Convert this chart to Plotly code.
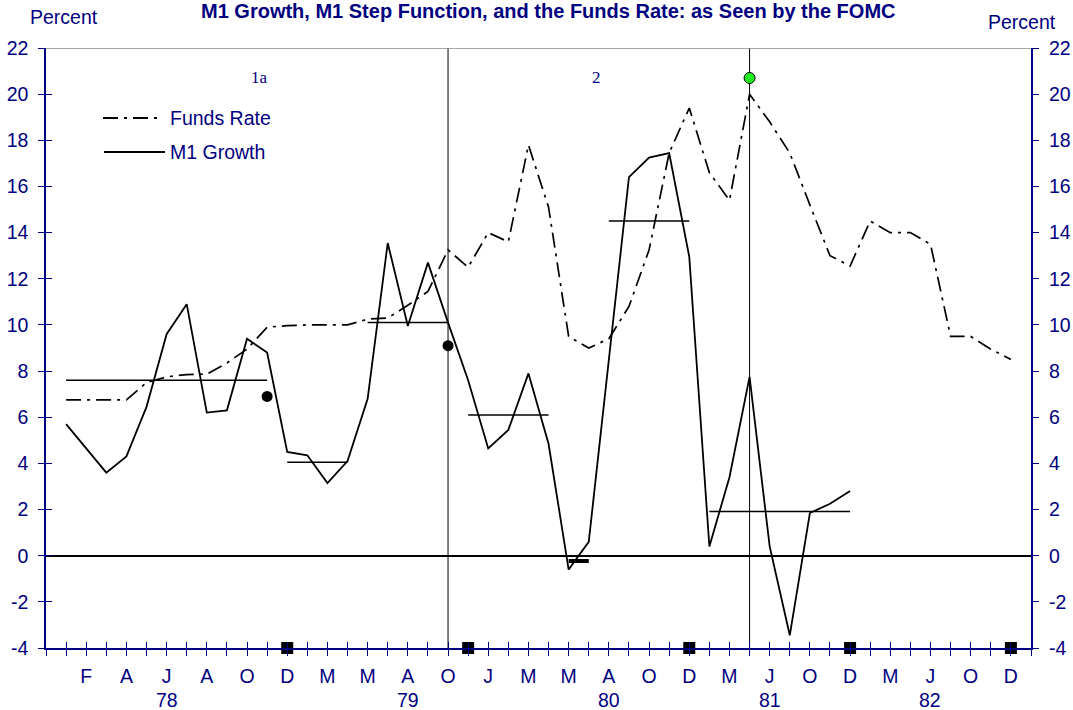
import plotly.graph_objects as go

# ---------------- data ----------------
# x positions are FOMC meeting indices (0 = left edge of axis, 49 = right edge)
funds_idx = list(range(1, 49))
funds_rate = [6.75, 6.75, 6.75, 6.75, 7.5, 7.75, 7.85, 7.87, 8.35, 8.95,
              9.9, 9.97, 10.0, 10.0, 10.0, 10.25, 10.3, 10.85, 11.45, 13.25,
              12.5, 14.0, 13.6, 17.8, 15.1, 9.5, 9.0, 9.4, 10.8, 13.25,
              17.45, 19.4, 16.6, 15.4, 20.0, 18.8, 17.45, 15.2, 13.0, 12.55,
              14.5, 14.0, 14.0, 13.5, 9.5, 9.5, 8.95, 8.5]

m1_idx = list(range(1, 41))
m1_growth = [5.7, 4.65, 3.6, 4.3, 6.45, 9.6, 10.9, 6.2, 6.3, 9.4,
             8.8, 4.5, 4.35, 3.15, 4.1, 6.8, 13.55, 9.95, 12.7, 10.1,
             7.6, 4.65, 5.45, 7.9, 4.85, -0.6, 0.6, 8.5, 16.4, 17.25,
             17.45, 12.95, 0.4, 3.4, 7.75, 0.4, -3.45, 1.85, 2.25, 2.8]

step_starts = [1, 12, 16, 21, 28, 33]
step_ends = [11, 15, 20, 25, 32, 40]
step_values = [7.6, 4.05, 10.1, 6.1, 14.5, 1.92]
thick_step_start = [26]
thick_step_end = [27]
thick_step_value = [-0.23]

black_dot_idx = [11, 20]
black_dot_val = [6.9, 9.1]
green_dot_idx = [35]
green_dot_val = [20.7]

square_idx = [12, 21, 32, 40, 48]
square_val = [-4, -4, -4, -4, -4]

regime_break_idx = [20, 35]

month_labels = ["F", "A", "J", "A", "O", "D", "M", "M", "A", "O", "J", "M",
                "M", "A", "O", "D", "M", "J", "O", "D", "M", "J", "O", "D"]
month_label_idx = list(range(2, 49, 2))
year_labels = ["78", "79", "80", "81", "82"]
year_label_idx = [6, 18, 28, 36, 44]

period_labels = ["1a", "2"]
period_label_idx = [10.6, 27.4]
period_label_val = [20.72, 20.72]

y_ticks = list(range(-4, 23, 2))
y_tick_text = [str(v) for v in y_ticks]  # plain hyphen minus like the original

# ---------------- styling ----------------
NAVY = "#000080"
FONT = "Liberation Sans, Arial, sans-serif"
FS = 19.5
X_RANGE = [0, 49]
Y_RANGE = [-4, 22]
FUNDS_DASH = "15px,6px,3px,6px"

all_ticks = list(range(0, 50))
tick_text = [""] * len(all_ticks)
for i, lab in zip(month_label_idx, month_labels):
    tick_text[i] = lab

fig = go.Figure()

# regime break vertical lines
vx, vy = [], []
for b in regime_break_idx:
    vx += [b, b, None]
    vy += [Y_RANGE[0], Y_RANGE[1], None]
fig.add_trace(go.Scatter(x=vx, y=vy, mode="lines",
                         line=dict(color="black", width=1), hoverinfo="skip",
                         showlegend=False, cliponaxis=False))

# step function
sx, sy = [], []
for a, b, v in zip(step_starts, step_ends, step_values):
    sx += [a, b, None]
    sy += [v, v, None]
fig.add_trace(go.Scatter(x=sx, y=sy, mode="lines",
                         line=dict(color="black", width=1.5),
                         name="M1 Step", showlegend=False))
tx, ty = [], []
for a, b, v in zip(thick_step_start, thick_step_end, thick_step_value):
    tx += [a, b, None]
    ty += [v, v, None]
fig.add_trace(go.Scatter(x=tx, y=ty, mode="lines",
                         line=dict(color="black", width=4),
                         showlegend=False))

# funds rate
fig.add_trace(go.Scatter(x=funds_idx, y=funds_rate, mode="lines",
                         line=dict(color="black", width=1.7, dash=FUNDS_DASH),
                         name="Funds Rate", showlegend=False))
# M1 growth
fig.add_trace(go.Scatter(x=m1_idx, y=m1_growth, mode="lines",
                         line=dict(color="black", width=1.8),
                         name="M1 Growth", showlegend=False))

# black dots (on yaxis3 = left inside ticks)
fig.add_trace(go.Scatter(x=black_dot_idx, y=black_dot_val, mode="markers",
                         marker=dict(color="black", size=11),
                         xaxis="x", yaxis="y3", showlegend=False))
# green dot (on right axis)
fig.add_trace(go.Scatter(x=green_dot_idx, y=green_dot_val, mode="markers",
                         marker=dict(color="#22ee22", size=11,
                                     line=dict(color="black", width=1)),
                         xaxis="x", yaxis="y2", showlegend=False,
                         cliponaxis=False))
# squares on the axis (on xaxis2 = bottom inside ticks)
fig.add_trace(go.Scatter(x=square_idx, y=square_val, mode="markers",
                         marker=dict(color="black", size=12, symbol="square"),
                         xaxis="x2", yaxis="y", showlegend=False,
                         cliponaxis=False))

axis_common = dict(showgrid=False, zeroline=False, automargin=False)

fig.update_layout(
    width=1073, height=710,
    margin=dict(l=46, r=42, t=48, b=62, autoexpand=False),
    plot_bgcolor="white", paper_bgcolor="white",
    font=dict(family=FONT, size=FS, color=NAVY),
    showlegend=False,
    xaxis=dict(range=X_RANGE, tickmode="array", tickvals=all_ticks,
               ticktext=tick_text, ticks="outside", ticklen=6, tickwidth=1,
               tickcolor=NAVY, showline=True, linecolor=NAVY, linewidth=1.5,
               tickfont=dict(size=FS, color=NAVY), ticklabelstandoff=4,
               **axis_common),
    xaxis2=dict(range=X_RANGE, overlaying="x", side="bottom", anchor="y",
                tickmode="array", tickvals=all_ticks, ticks="inside",
                ticklen=6, tickwidth=1, tickcolor=NAVY,
                showticklabels=False, showline=False, **axis_common),
    yaxis=dict(range=Y_RANGE, tickmode="array", tickvals=y_ticks,
               ticktext=y_tick_text,
               ticks="outside", ticklen=6, tickwidth=1, tickcolor=NAVY,
               showline=True, linecolor=NAVY, linewidth=1.5,
               tickfont=dict(size=FS, color=NAVY), ticklabelstandoff=6,
               showgrid=False, zeroline=True, zerolinecolor="black",
               zerolinewidth=1.5, automargin=False),
    yaxis2=dict(range=Y_RANGE, overlaying="y", side="right", anchor="x",
                tickmode="array", tickvals=y_ticks, ticktext=y_tick_text,
                ticks="outside",
                ticklen=6, tickwidth=1, tickcolor=NAVY, showline=True,
                linecolor=NAVY, linewidth=2,
                tickfont=dict(size=FS, color=NAVY), ticklabelstandoff=6,
                **axis_common),
    yaxis3=dict(range=Y_RANGE, overlaying="y", side="left", anchor="x",
                tickmode="array", tickvals=y_ticks, ticks="inside",
                ticklen=6, tickwidth=1, tickcolor=NAVY,
                showticklabels=False, showline=False, **axis_common),
)

# title
fig.add_annotation(x=(548 - 46) / 985, y=(648 - 10.5) / 600, xref="paper",
                   yref="paper", showarrow=False, xanchor="center",
                   yanchor="middle", borderpad=0,
                   text="<b>M1 Growth, M1 Step Function, and the Funds Rate: as Seen by the FOMC</b>",
                   font=dict(family=FONT, size=20, color=NAVY))

# top border (gray)
fig.add_shape(type="line", xref="paper", yref="y", x0=0, x1=1,
              y0=Y_RANGE[1], y1=Y_RANGE[1],
              line=dict(color="#8a8a8a", width=1.5))

# year labels
for i, lab in zip(year_label_idx, year_labels):
    fig.add_annotation(x=i, y=0, xref="x", yref="paper", text=lab,
                       showarrow=False, yanchor="middle", yshift=-52,
                       font=dict(family=FONT, size=FS, color=NAVY))

# period labels
for i, v, lab in zip(period_label_idx, period_label_val, period_labels):
    fig.add_annotation(x=i, y=v, xref="x", yref="y", text=lab,
                       showarrow=False,
                       font=dict(family="Liberation Serif, Times New Roman, serif",
                                 size=17, color=NAVY))

# axis unit labels
fig.add_annotation(x=(28 - 46) / 985, y=(648 - 17) / 600, xref="paper",
                   yref="paper", text="Percent", showarrow=False,
                   xanchor="left", yanchor="middle",
                   font=dict(family=FONT, size=FS, color=NAVY))
fig.add_annotation(x=(986 - 46) / 985, y=(648 - 22) / 600, xref="paper",
                   yref="paper", text="Percent", showarrow=False,
                   xanchor="left", yanchor="middle",
                   font=dict(family=FONT, size=FS, color=NAVY))

# custom legend
legend_items = [("Funds Rate", FUNDS_DASH, 118, 103, 160),
                ("M1 Growth", "solid", 152, 104, 165)]
for text, dash, py, x0, x1 in legend_items:
    yp = (648 - py) / 600
    fig.add_shape(type="line", xref="paper", yref="paper",
                  x0=(x0 - 46) / 985, x1=(x1 - 46) / 985, y0=yp, y1=yp,
                  line=dict(color="black", width=1.8, dash=dash))
    fig.add_annotation(x=(168 - 46) / 985, y=yp, xref="paper", yref="paper",
                       text=text, showarrow=False, xanchor="left",
                       yanchor="middle",
                       font=dict(family=FONT, size=FS, color=NAVY))

fig.write_html("out.html",
               config={"displayModeBar": False},
               post_script="document.body.style.margin='0';")
